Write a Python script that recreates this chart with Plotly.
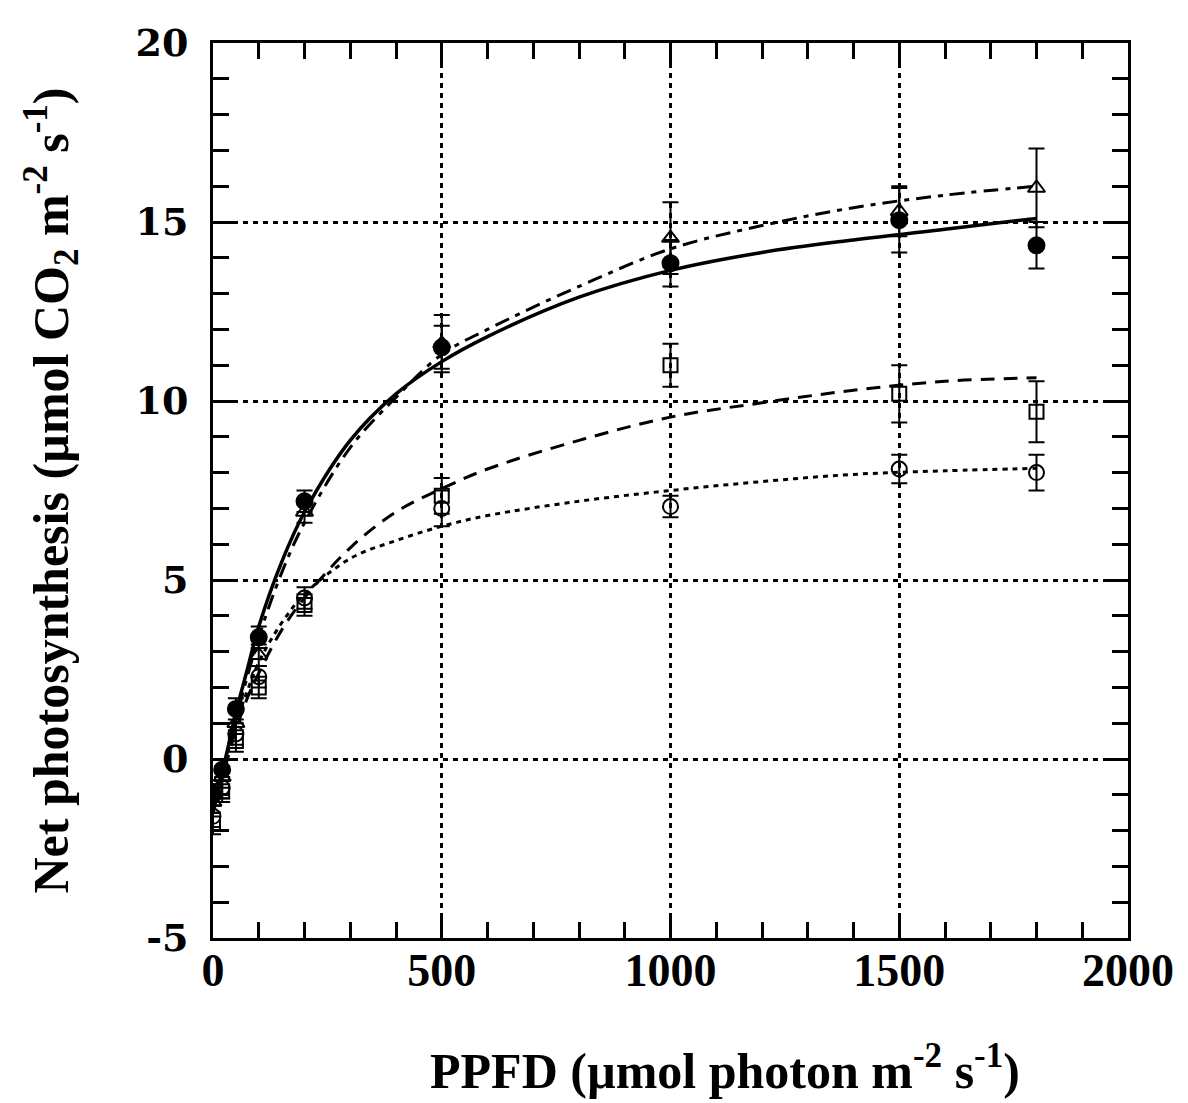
import plotly.graph_objects as go

# --- measured data points ---
ppfd = [0, 20, 50, 100, 200, 500, 1000, 1500, 1800]

filled_circle = [-1.0, -0.3, 1.4, 3.4, 7.2, 11.5, 13.85, 15.05, 14.35]
filled_circle_err = [0.3, 0.3, 0.3, 0.3, 0.3, 0.6, 0.65, 0.9, 0.65]

triangle = [-1.2, -0.5, 1.0, 2.9, 6.9, 11.6, 14.55, 15.3, 15.95]
triangle_err = [0.3, 0.3, 0.3, 0.3, 0.3, 0.8, 1.0, 0.7, 1.1]

square = [-1.8, -0.9, 0.5, 2.0, 4.3, 7.35, 11.0, 10.2, 9.7]
square_err = [0.3, 0.3, 0.3, 0.3, 0.3, 0.5, 0.6, 0.8, 0.85]

open_circle = [-1.6, -0.8, 0.7, 2.3, 4.5, 7.0, 7.05, 8.1, 8.0]
open_circle_err = [0.3, 0.3, 0.3, 0.3, 0.3, 0.5, 0.3, 0.4, 0.5]

# --- fitted curves ---
fit_x = [0, 25, 50, 75, 100, 150, 200, 300, 400, 500, 600, 800, 1000, 1200, 1400, 1600, 1800]
fit_solid = [-1.2, -0.1, 1.3, 2.5, 3.7, 5.5, 6.9, 8.9, 10.2, 11.1, 11.8, 12.9, 13.65, 14.15, 14.5, 14.8, 15.1]
fit_dashdot = [-1.3, -0.2, 1.1, 2.3, 3.4, 5.2, 6.6, 8.7, 10.1, 11.3, 12.0, 13.2, 14.25, 14.9, 15.4, 15.75, 16.0]
fit_dashed = [-1.5, -0.3, 0.8, 1.7, 2.4, 3.6, 4.5, 5.9, 6.9, 7.55, 8.1, 8.9, 9.55, 9.95, 10.3, 10.55, 10.65]
fit_dotted = [-1.5, -0.1, 1.0, 1.9, 2.7, 3.8, 4.6, 5.6, 6.1, 6.5, 6.8, 7.2, 7.5, 7.75, 7.95, 8.05, 8.12]

x_ticks = [0, 500, 1000, 1500, 2000]
y_ticks = [-5, 0, 5, 10, 15, 20]
y_tick_text = ["-5", "0", "5", "10", "15", "20"]

fig = go.Figure()

line_specs = [
    (fit_solid, "solid", 3.5),
    (fit_dashdot, "15px,7px,5px,7px", 3),
    (fit_dashed, "14px,9px", 3),
    (fit_dotted, "5px,5px", 3),
]
for ys, dash, w in line_specs:
    fig.add_trace(go.Scatter(x=fit_x, y=ys, mode="lines", line_shape="spline",
                             line=dict(color="black", width=w, dash=dash),
                             showlegend=False, hoverinfo="skip"))

marker_specs = [
    (open_circle, open_circle_err, "circle-open", 15),
    (square, square_err, "square-open", 14),
    (triangle, triangle_err, "triangle-up-open", 15),
    (filled_circle, filled_circle_err, "circle", 16),
]
for ys, err, sym, sz in marker_specs:
    fig.add_trace(go.Scatter(
        x=ppfd, y=ys, mode="markers",
        marker=dict(symbol=sym, size=sz, color="black",
                    line=dict(color="black", width=2)),
        error_y=dict(type="data", array=err, visible=True, color="black",
                     thickness=2, width=8),
        showlegend=False))

axis_common = dict(
    showline=True, linecolor="black", linewidth=3, mirror="allticks",
    ticks="inside", ticklen=20, tickwidth=3, tickcolor="black",
    showgrid=True, gridcolor="black", gridwidth=3, griddash="5px,5px",
    zeroline=False,
)

fig.update_xaxes(
    range=[0, 2000], tickvals=x_ticks,
    tickfont=dict(family="Liberation Serif", size=46, color="black", weight="bold"),
    ticklabelstandoff=-10,
    minor=dict(dtick=100, ticks="inside", ticklen=16, tickwidth=2.5, tickcolor="black", showgrid=False),
    **axis_common)

fig.update_yaxes(
    range=[-5, 20], tickvals=y_ticks, ticktext=y_tick_text,
    tickfont=dict(family="DejaVu Serif", size=38, color="black", weight="bold"),
    ticklabelstandoff=14,
    minor=dict(dtick=1, ticks="inside", ticklen=16, tickwidth=2.5, tickcolor="black", showgrid=False),
    title=dict(text="<b>Net photosynthesis (µmol CO<sub>2</sub> m<sup>-2</sup> s<sup>-1</sup>)</b>",
               font=dict(family="Liberation Serif", size=50, color="black"), standoff=52),
    **axis_common)

fig.add_annotation(
    text="<b>PPFD (µmol photon m<sup>-2</sup> s<sup>-1</sup>)</b>",
    xref="paper", yref="paper", x=0.56, y=-0.145,
    xanchor="center", yanchor="middle", showarrow=False,
    font=dict(family="Liberation Serif", size=50, color="black"))

fig.update_layout(
    width=1180, height=1095,
    margin=dict(l=205, r=60, t=31, b=165),
    plot_bgcolor="white", paper_bgcolor="white",
)

fig.write_html("out.html")
